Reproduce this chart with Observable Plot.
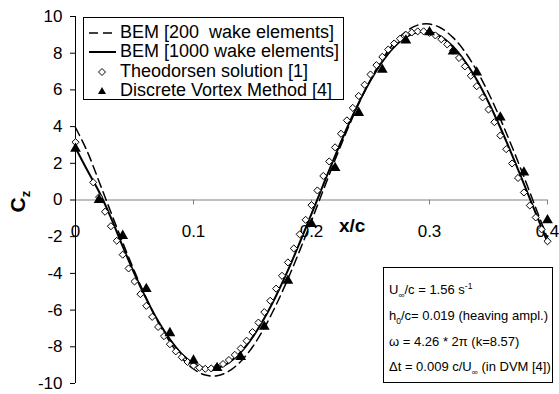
<!DOCTYPE html>
<html>
<head>
<meta charset="utf-8">
<script src="https://cdn.jsdelivr.net/npm/d3@7"></script>
<script src="https://cdn.jsdelivr.net/npm/@observablehq/plot@0.6"></script>
<style>
  html, body { margin: 0; padding: 0; background: #fff; }
  #wrap { position: relative; width: 559px; height: 394px; font-family: "Liberation Sans", Arial, sans-serif; color: #000; }
  #legend { position: absolute; left: 83px; top: 17px; width: 261px; height: 83px; border: 1px solid #000; background: #fff; box-sizing: border-box; font-size: 18px; }
  #legend .row { position: absolute; left: 0; height: 19px; line-height: 19px; white-space: nowrap; }
  #legend svg { position: absolute; left: 4px; top: 0; }
  #legend span { position: absolute; left: 36px; top: 0; }
  #info { position: absolute; left: 383px; top: 267px; width: 170px; height: 116px; border: 1px solid #000; background: #fff; box-sizing: border-box; font-size: 13px; padding: 9px 0 0 5px; line-height: 25.8px; white-space: nowrap; }
  #info sub, #info sup { font-size: 8.5px; line-height: 0; }
  #xlab { position: absolute; left: 339px; top: 215px; font-weight: bold; font-size: 19px; }
  #ylab { position: absolute; left: 9px; top: 188px; font-weight: bold; font-size: 21px; transform-origin: center; transform: rotate(-90deg); }
  #ylab sub { font-size: 13px; }
</style>
</head>
<body>
<div id="wrap">
  <div id="chart"></div>
  <div id="legend"></div>
  <div id="info"></div>
  <div id="xlab">x/c</div>
  <div id="ylab">C<sub>z</sub></div>
</div>
<script>
// ---- data ----
const xGrid = [0, 0.01, 0.02, 0.03, 0.04, 0.05, 0.06, 0.07, 0.08, 0.09, 0.10, 0.11, 0.12, 0.13, 0.14, 0.15, 0.16, 0.17, 0.18, 0.19, 0.20, 0.21, 0.22, 0.23, 0.24, 0.25, 0.26, 0.27, 0.28, 0.29, 0.30, 0.31, 0.32, 0.33, 0.34, 0.35, 0.36, 0.37, 0.38, 0.39, 0.40];
const bem200 = [3.95, 2.64, 1.00, -0.67, -2.31, -3.89, -5.35, -6.65, -7.74, -8.61, -9.21, -9.54, -9.58, -9.33, -8.80, -8.01, -6.97, -5.72, -4.30, -2.76, -1.13, 0.54, 2.19, 3.77, 5.24, 6.55, 7.67, 8.55, 9.18, 9.53, 9.59, 9.36, 8.85, 8.08, 7.06, 5.83, 4.42, 2.89, 1.27, -0.42, -2.08];
const bem1000 = [2.85, 1.62, 0.45, -0.96, -2.53, -4.02, -5.39, -6.60, -7.60, -8.39, -8.91, -9.17, -9.16, -8.86, -8.30, -7.49, -6.45, -5.22, -3.84, -2.33, -0.76, 0.84, 2.41, 3.91, 5.29, 6.51, 7.54, 8.34, 8.88, 9.16, 9.17, 8.89, 8.35, 7.56, 6.55, 5.33, 3.95, 2.45, 0.88, -0.71, -2.29];
const theoX = [0, 0.015, 0.020, 0.025, 0.030, 0.035, 0.040, 0.045, 0.050, 0.055, 0.060, 0.065, 0.070, 0.075, 0.080, 0.085, 0.090, 0.095, 0.100, 0.105, 0.110, 0.115, 0.120, 0.125, 0.130, 0.135, 0.140, 0.145, 0.150, 0.155, 0.160, 0.165, 0.170, 0.175, 0.180, 0.185, 0.190, 0.195, 0.200, 0.205, 0.210, 0.215, 0.220, 0.225, 0.230, 0.235, 0.240, 0.245, 0.250, 0.255, 0.260, 0.265, 0.270, 0.275, 0.280, 0.285, 0.290, 0.295, 0.300, 0.305, 0.310, 0.315, 0.320, 0.325, 0.330, 0.335, 0.340, 0.345, 0.350, 0.355, 0.360, 0.365, 0.370, 0.375, 0.380, 0.385, 0.390, 0.395, 0.400];
const theoY = [3.15, 0.96, 0.16, -0.64, -1.43, -2.22, -2.98, -3.73, -4.44, -5.13, -5.77, -6.37, -6.92, -7.42, -7.86, -8.25, -8.57, -8.83, -9.02, -9.14, -9.20, -9.18, -9.10, -8.94, -8.72, -8.44, -8.09, -7.67, -7.20, -6.68, -6.11, -5.49, -4.83, -4.13, -3.40, -2.64, -1.87, -1.08, -0.28, 0.52, 1.31, 2.10, 2.87, 3.61, 4.34, 5.02, 5.67, 6.28, 6.84, 7.35, 7.80, 8.20, 8.53, 8.79, 9.00, 9.13, 9.19, 9.19, 9.11, 8.97, 8.76, 8.48, 8.14, 7.74, 7.28, 6.77, 6.20, 5.59, 4.93, 4.24, 3.51, 2.77, 1.99, 1.20, 0.41, -0.30, -0.95, -1.60, -2.25];
const dvmX = [0, 0.02, 0.04, 0.06, 0.08, 0.10, 0.12, 0.14, 0.16, 0.18, 0.20, 0.22, 0.24, 0.26, 0.28, 0.30, 0.32, 0.34, 0.36, 0.38, 0.40];
const dvmY = [2.8, 0.0, -1.95, -4.85, -7.25, -8.75, -9.15, -8.55, -6.90, -4.40, -1.30, 1.75, 4.75, 7.10, 8.70, 9.15, 8.10, 6.95, 4.50, 1.50, -1.10];
const xTicks = [0, 0.1, 0.2, 0.3, 0.4];
const xTickLabels = ["0", "0.1", "0.2", "0.3", "0.4"];
const yTicks = [-10, -8, -6, -4, -2, 0, 2, 4, 6, 8, 10];
const yTickLabels = ["-10", "-8", "-6", "-4", "-2", "0", "2", "4", "6", "8", "10"];
const seriesNames = ["BEM [200  wake elements]", "BEM [1000 wake elements]", "Theodorsen solution [1]", "Discrete Vortex Method [4]"];
const infoLines = [
  "U<sub>∞</sub>/c = 1.56 s<sup>-1</sup>",
  "h<sub>0</sub>/c= 0.019 (heaving ampl.)",
  "ω = 4.26 * 2π (k=8.57)",
  "Δt = 0.009 c/U<sub>∞</sub> (in DVM [4])"
];

const chart = Plot.plot({
  width: 559,
  height: 394,
  marginLeft: 75,
  marginRight: 12,
  marginTop: 16,
  marginBottom: 11,
  style: { fontFamily: "'Liberation Sans', Arial, sans-serif", fontSize: "17px", color: "#000", background: "#fff" },
  x: { domain: [0, 0.4], axis: null },
  y: { domain: [-10, 10] },
  marks: [
    Plot.ruleY([0], { stroke: "#808080", strokeWidth: 1 }),
    Plot.ruleX(xTicks, { x: d => d, y1: 0, y2: 0, insetBottom: -5, stroke: "#808080" }),
    Plot.text(xTicks, { x: d => d, y: 0, dy: 32, text: (d, i) => xTickLabels[i], fontSize: 17, fill: "#000" }),
    Plot.ruleX([0], { stroke: "#000", strokeWidth: 1 }),
    Plot.axisY({ ticks: yTicks, tickFormat: d => yTickLabels[yTicks.indexOf(d)], tickSize: 5, tickPadding: 8, fontSize: 17, label: null, stroke: "#000" }),
    Plot.line(xGrid, { x: xGrid, y: bem200, stroke: "#000", strokeWidth: 1.5, strokeDasharray: "9,5", curve: "catmull-rom" }),
    Plot.line(xGrid, { x: xGrid, y: bem1000, stroke: "#000", strokeWidth: 2, curve: "catmull-rom" }),
    Plot.dot(theoX, { x: theoX, y: theoY, symbol: "diamond2", r: 3.2, stroke: "#000", fill: "#fff", strokeWidth: 1 }),
    Plot.dot(dvmX, { x: dvmX, y: dvmY, symbol: "triangle", r: 4, fill: "#000", stroke: "none" })
  ]
});
document.getElementById("chart").appendChild(chart);

// legend
const legend = document.getElementById("legend");
const glyphs = [
  '<svg width="30" height="19"><line x1="1" x2="28" y1="10" y2="10" stroke="#000" stroke-width="1.5" stroke-dasharray="9,5"/></svg>',
  '<svg width="30" height="19"><line x1="1" x2="28" y1="10" y2="10" stroke="#000" stroke-width="2"/></svg>',
  '<svg width="30" height="19"><path d="M14,6.5L17.5,10L14,13.5L10.5,10Z" fill="#fff" stroke="#000"/></svg>',
  '<svg width="30" height="19"><path d="M14,6L18,13L10,13Z" fill="#000"/></svg>'
];
seriesNames.forEach((name, i) => {
  const row = document.createElement("div");
  row.className = "row";
  row.style.top = (5 + i * 19.3) + "px";
  row.innerHTML = glyphs[i] + "<span>" + name.replace(/  /g, " &nbsp;") + "</span>";
  legend.appendChild(row);
});
document.getElementById("info").innerHTML = infoLines.join("<br>");
</script>
</body>
</html>
